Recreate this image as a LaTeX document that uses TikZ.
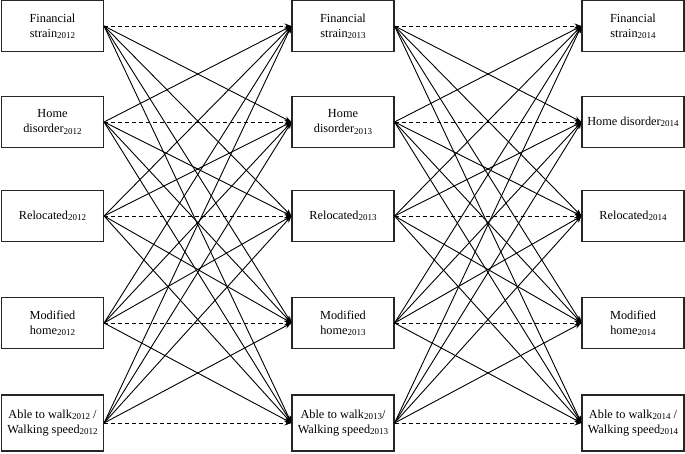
\documentclass[tikz,border=0pt]{standalone}
\usepackage{fontspec}
\setmainfont{Liberation Serif}
\usetikzlibrary{arrows.meta}
\newcommand\yr[1]{\raisebox{-1.4pt}{\fontsize{9}{9}\selectfont #1}}
\begin{document}
\begin{tikzpicture}[x=1pt,y=-1pt,
  box/.style={draw=black!85, line width=1.1pt, rectangle, minimum width=102pt,
    minimum height=51pt, align=center, font=\fontsize{12.3}{15}\selectfont, inner sep=1pt},
  link/.style={line width=0.9pt, -{Stealth[length=7pt,width=5pt]}},
  same/.style={link, dash pattern=on 4pt off 3pt}]
\useasboundingbox (0,0) rectangle (685,453);
% column 2012
\node[box] (a1) at (52.5,26) {Financial\\strain\yr{2012}};
\node[box] (a2) at (52.5,122) {Home\\disorder\yr{2012}};
\node[box] (a3) at (52.5,216) {Relocated\yr{2012}};
\node[box] (a4) at (52.5,323) {Modified\\home\yr{2012}};
\node[box, minimum height=56pt] (a5) at (52.5,423) {Able to walk\yr{2012} /\\Walking speed\yr{2012}};
% column 2013
\node[box] (b1) at (343,26) {Financial\\strain\yr{2013}};
\node[box] (b2) at (343,122) {Home\\disorder\yr{2013}};
\node[box] (b3) at (343,216) {Relocated\yr{2013}};
\node[box] (b4) at (343,323) {Modified\\home\yr{2013}};
\node[box, minimum height=56pt] (b5) at (343,423) {Able to walk\yr{2013}/\\Walking speed\yr{2013}};
% column 2014
\node[box] (c1) at (633,26) {Financial\\strain\yr{2014}};
\node[box] (c2) at (633,122) {Home disorder\yr{2014}};
\node[box] (c3) at (633,216) {Relocated\yr{2014}};
\node[box] (c4) at (633,323) {Modified\\home\yr{2014}};
\node[box, minimum height=56pt] (c5) at (633,423) {Able to walk\yr{2014} /\\Walking speed\yr{2014}};
% connectors
\foreach \i in {1,...,5}{
  \foreach \j in {1,...,5}{
    \ifnum\i=\j
      \draw[same] (a\i.east) -- (b\j.west);
      \draw[same] (b\i.east) -- (c\j.west);
    \else
      \draw[link] (a\i.east) -- (b\j.west);
      \draw[link] (b\i.east) -- (c\j.west);
    \fi
  }
}
\end{tikzpicture}
\end{document}
